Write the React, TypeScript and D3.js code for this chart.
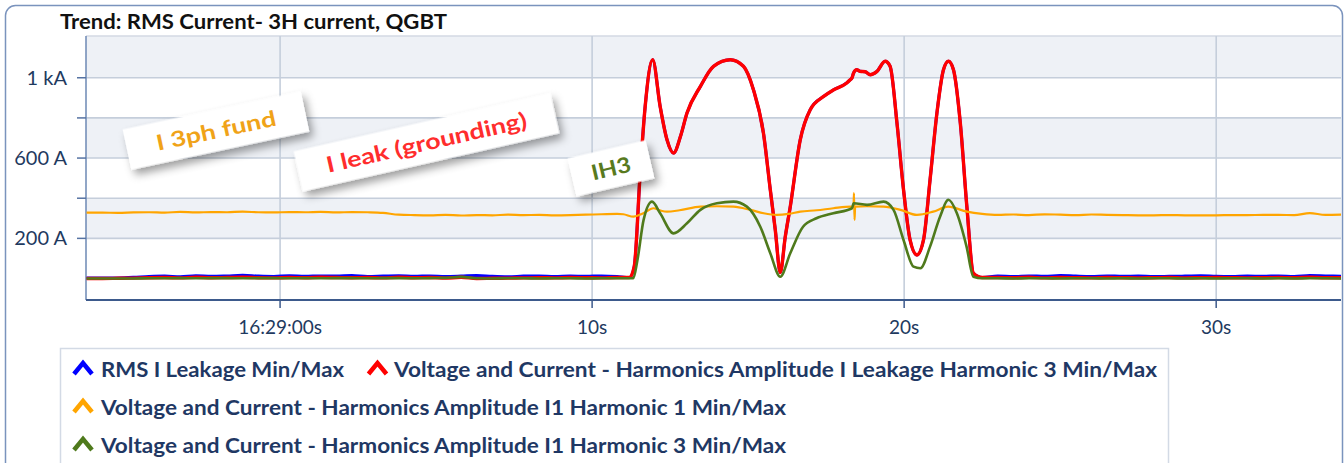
import React from "react";
import * as d3 from "d3";

const W = 1344;
const H = 463;

// ---------- data ----------
const xTickValues = [0, 10, 20, 30];
const xTickLabels = ["16:29:00s", "10s", "20s", "30s"];
const yTickValues = [200, 400, 600, 800, 1000];
const yTickLabels = ["200 A", "", "600 A", "", "1 kA"];

const seriesNames = [
  "RMS I Leakage Min/Max",
  "Voltage and Current - Harmonics Amplitude I Leakage Harmonic 3 Min/Max",
  "Voltage and Current - Harmonics Amplitude I1 Harmonic 1 Min/Max",
  "Voltage and Current - Harmonics Amplitude I1 Harmonic 3 Min/Max",
];
const seriesColors = ["#0000ff", "#ff0000", "#ffa500", "#4f7a1c"];

// sample times (seconds after 16:29:00) before and after the event
const preTimes = d3.range(0, 35).map((i) => -6.2 + i * 0.5);
const postTimes = d3.range(0, 23).map((i) => 23 + i * 0.5);

const bluePre = [2, 2, 3, 6, 10, 12, 9, 14, 11, 13, 16, 12, 10, 14, 11, 13, 12, 15, 10, 12, 14, 11, 13, 10, 12, 15, 11, 9, 12, 13, 10, 12, 11, 13, 10];
const redPre = [0, 0, 1, 2, 4, 5, 3, 6, 4, 5, 6, 4, 3, 5, 4, 6, 5, 4, 5, 3, 6, 4, 5, 2, 6, 0, 1, 2, 3, 4, 3, 5, 4, 3, 5];
const greenPre = [0, 0, 0, 0, 1, 1, 2, 1, 2, 2, 1, 2, 2, 1, 2, 1, 2, 2, 1, 2, 2, 1, 2, 3, 8, 1, 0, 1, 1, 0, 1, 1, 0, 1, 1];
const orangePre = [328, 328, 327, 329, 330, 328, 332, 329, 331, 330, 333, 330, 329, 331, 330, 332, 329, 331, 330, 327, 318, 316, 315, 317, 314, 316, 315, 318, 316, 317, 315, 316, 318, 320, 322];

const bluePost = [12, 10, 13, 11, 15, 12, 10, 13, 11, 12, 10, 11, 12, 14, 11, 10, 12, 11, 13, 10, 15, 13, 11];
const redPost = [5, 4, 6, 3, 5, 4, 3, 5, 4, 3, 4, 5, 3, 4, 5, 4, 3, 4, 5, 4, 6, 4, 4];
const greenPost = [1, 0, 1, 1, 0, 1, 1, 0, 1, 0, 1, 1, 0, 1, 0, 1, 1, 0, 1, 0, 1, 1, 0];
const orangePost = [317, 319, 316, 320, 318, 316, 319, 317, 316, 315, 315, 316, 315, 315, 315, 316, 316, 317, 317, 316, 326, 317, 318];

const redEventT = [11.2, 11.35, 11.54, 11.7, 11.94, 12.18, 12.4, 12.61, 12.83, 13.04, 13.47, 13.89, 14.43, 14.85, 15.17, 15.49, 15.71, 15.87, 16.03, 16.19, 16.35, 16.67, 16.99, 17.42, 17.74, 18.16, 18.27, 18.33, 18.38, 18.48, 18.59, 18.75, 18.91, 19.13, 19.39, 19.55, 19.77, 19.98, 20.19, 20.41, 20.62, 20.83, 21.05, 21.26, 21.42, 21.58, 21.8, 22.01, 22.22, 22.5];
const redEventV = [5, 60, 525, 857, 1090, 857, 691, 625, 707, 824, 957, 1057, 1090, 1057, 940, 725, 442, 242, 30, 208, 358, 691, 841, 907, 940, 974, 990, 1000, 1024, 1040, 1032, 1030, 1015, 1032, 1082, 1057, 774, 442, 192, 117, 192, 491, 824, 1040, 1082, 1040, 774, 358, 26, 5];

const greenEventT = [11.32, 11.45, 11.65, 11.92, 12.18, 12.61, 13.04, 13.47, 14.0, 14.53, 14.96, 15.39, 15.71, 16.03, 16.35, 16.76, 17.19, 17.73, 18.33, 18.38, 18.81, 19.34, 19.66, 19.98, 20.3, 20.52, 20.83, 21.15, 21.42, 21.69, 22.0, 22.22, 22.5];
const greenEventV = [1, 90, 292, 383, 325, 225, 275, 342, 375, 383, 358, 258, 126, 9, 126, 258, 300, 325, 350, 375, 367, 383, 342, 192, 59, 51, 159, 308, 392, 325, 159, 9, 1];

const orangeEventT = [11.0, 11.33, 11.64, 11.96, 12.2, 12.4, 12.8, 13.47, 14.0, 14.53, 15.07, 15.5, 15.92, 16.3, 16.67, 17.2, 17.73, 18.3, 18.38, 18.39, 18.41, 18.43, 18.8, 19.34, 19.88, 20.41, 20.93, 21.41, 22.01, 22.5];
const orangeEventV = [320, 308, 325, 350, 338, 333, 340, 358, 360, 358, 342, 325, 317, 322, 333, 340, 350, 358, 358, 425, 292, 358, 360, 358, 342, 317, 333, 358, 333, 322];

const annotationTexts = ["I 3ph fund", "I leak (grounding)", "IH3"];
const annotationColors = ["#f0a318", "#ff2d2d", "#587a1e"];

// ---------- helpers ----------
type P = [number, number];
const zip = (t: number[], v: number[]): P[] => t.map((x, i) => [x, v[i]] as P);

const blueData: P[] = [...zip(preTimes, bluePre), ...zip(redEventT, redEventV), ...zip(postTimes, bluePost)];
const redData: P[] = [...zip(preTimes, redPre), ...zip(redEventT, redEventV), ...zip(postTimes, redPost)];
const orangeData: P[] = [...zip(preTimes, orangePre), ...zip(orangeEventT, orangeEventV), ...zip(postTimes, orangePost)];
const greenData: P[] = [...zip(preTimes, greenPre), ...zip(greenEventT, greenEventV), ...zip(postTimes, greenPost)];
const allSeries = [blueData, redData, orangeData, greenData];
const strokeWidths = [3, 3.4, 2.2, 2.6];

const FONT = "Lato, 'Open Sans', sans-serif";

export default function App() {
  const left = 86, right = 1341, top = 36, bottom = 300;
  const x = d3.scaleLinear().domain([-6.22, 34.0]).range([left, right]);
  const y = d3.scaleLinear().domain([-107, 1208]).range([bottom, top]);
  const line = d3
    .line<P>()
    .x((d) => x(d[0]))
    .y((d) => y(d[1]))
    .curve(d3.curveMonotoneX);

  const bands: [number, number][] = [
    [200, 400],
    [600, 800],
    [1000, 1208],
  ];

  const annots = [
    { cx: 216, cy: 130.5, w: 182, h: 41, a: -12.1, fs: 21.5, tl: 122 },
    { cx: 426.5, cy: 142.3, w: 263, h: 41, a: -12.8, fs: 22, tl: 205 },
    { cx: 611, cy: 168.3, w: 80, h: 39, a: -13.1, fs: 21.5, tl: 40 },
  ];

  const legendRows = [
    [
      { i: 0, mx: 83, tx: 101, tl: 243 },
      { i: 1, mx: 377.5, tx: 394, tl: 763 },
    ],
    [{ i: 2, mx: 83, tx: 101, tl: 685 }],
    [{ i: 3, mx: 83, tx: 101, tl: 685 }],
  ];
  const rowBase = [377, 415, 453];

  return (
    <svg
      width={W}
      height={H}
      style={{ position: "absolute", left: 0, top: 0, display: "block", background: "#fff" }}
      fontFamily={FONT}
    >
      <defs>
        <clipPath id="plotClip">
          <rect x={left} y={top} width={right - left} height={bottom - top} />
        </clipPath>
        <filter id="shadow" x="-20%" y="-40%" width="150%" height="200%">
          <feDropShadow dx="3" dy="6" stdDeviation="4.5" floodColor="#000" floodOpacity="0.38" />
        </filter>
      </defs>

      {/* card */}
      <rect x={5.5} y={5.5} width={1337} height={520} rx={10} fill="#fff" stroke="#7a93bd" strokeWidth={1.5} />

      {/* title */}
      <text x={60} y={29} fontSize={20.5} fontWeight={700} fill="#111" textLength={387} lengthAdjust="spacingAndGlyphs">
        Trend: RMS Current- 3H current, QGBT
      </text>

      {/* bands */}
      {bands.map(([a, b], i) => (
        <rect key={i} x={left} y={y(b)} width={right - left} height={y(a) - y(b)} fill="#eef1f6" />
      ))}
      {/* horizontal grid */}
      {yTickValues.map((v) => (
        <line key={v} x1={left} x2={right} y1={y(v)} y2={y(v)} stroke="#c5cedb" strokeWidth={1.6} />
      ))}
      <line x1={left} x2={right} y1={top} y2={top} stroke="#d3d9e3" strokeWidth={1.5} />
      {/* vertical grid */}
      {xTickValues.map((v) => (
        <line key={v} x1={x(v)} x2={x(v)} y1={top} y2={bottom} stroke="#c5cedb" strokeWidth={1.6} />
      ))}

      {/* y axis */}
      <line x1={left} x2={left} y1={top} y2={bottom} stroke="#6d88b4" strokeWidth={1.5} />
      {yTickValues.map((v, i) => (
        <g key={v}>
          <line x1={left - 9} x2={left} y1={y(v)} y2={y(v)} stroke="#5673a3" strokeWidth={1.5} />
          {yTickLabels[i] && (
            <text x={67} y={y(v) + 7} textAnchor="end" fontSize={20} fill="#1f3a5f">
              {yTickLabels[i]}
            </text>
          )}
        </g>
      ))}

      {/* series */}
      <g clipPath="url(#plotClip)">
        {allSeries.map((d, i) => (
          <path
            key={i}
            d={line(d) || ""}
            fill="none"
            stroke={seriesColors[i]}
            strokeWidth={strokeWidths[i]}
            strokeLinejoin="round"
          />
        ))}
      </g>

      {/* x axis */}
      <line x1={left} x2={right} y1={bottom} y2={bottom} stroke="#3d5a8c" strokeWidth={2} />
      {xTickValues.map((v, i) => (
        <g key={v}>
          <line x1={x(v)} x2={x(v)} y1={bottom} y2={bottom + 8} stroke="#3d5a8c" strokeWidth={1.5} />
          <text x={x(v)} y={334} textAnchor="middle" fontSize={19} fill="#1f3a5f">
            {xTickLabels[i]}
          </text>
        </g>
      ))}

      {/* annotations */}
      {annots.map((a, i) => (
        <g key={i} transform={`translate(${a.cx},${a.cy}) rotate(${a.a})`}>
          <rect x={-a.w / 2} y={-a.h / 2} width={a.w} height={a.h} fill="#fff" filter="url(#shadow)" />
          <text
            x={0}
            y={a.fs * 0.36}
            textAnchor="middle"
            fontSize={a.fs}
            fontWeight={700}
            fill={annotationColors[i]}
            textLength={a.tl}
            lengthAdjust="spacingAndGlyphs"
          >
            {annotationTexts[i]}
          </text>
        </g>
      ))}

      {/* legend */}
      <rect x={60.5} y={348.5} width={1108} height={140} fill="#fff" stroke="#d3dae5" strokeWidth={1.5} />
      {legendRows.map((row, r) =>
        row.map((it) => (
          <g key={`${r}-${it.i}`}>
            <path
              d={`M${it.mx - 9},${rowBase[r] - 3} L${it.mx},${rowBase[r] - 14} L${it.mx + 9},${rowBase[r] - 3}`}
              fill="none"
              stroke={seriesColors[it.i]}
              strokeWidth={4.5}
              strokeLinejoin="miter"
            />
            <text
              x={it.tx}
              y={rowBase[r]}
              fontSize={21}
              fontWeight={700}
              fill="#1f3864"
              textLength={it.tl}
              lengthAdjust="spacingAndGlyphs"
            >
              {seriesNames[it.i]}
            </text>
          </g>
        ))
      )}
    </svg>
  );
}
